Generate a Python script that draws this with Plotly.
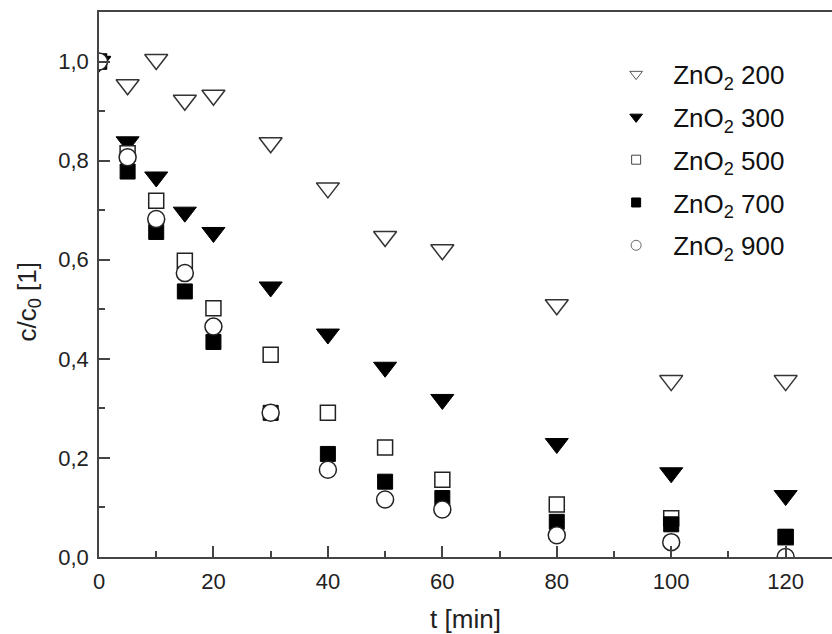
import plotly.graph_objects as go

t = [0, 5, 10, 15, 20, 30, 40, 50, 60, 80, 100, 120]

zno2_200 = [1.0, 0.953, 1.004, 0.922, 0.932, 0.836, 0.745, 0.647, 0.620, 0.509, 0.356, 0.356]
zno2_300 = [1.0, 0.838, 0.767, 0.696, 0.655, 0.545, 0.450, 0.383, 0.318, 0.229, 0.170, 0.124]
zno2_500 = [1.0, 0.815, 0.719, 0.598, 0.502, 0.408, 0.291, 0.221, 0.156, 0.106, 0.078, 0.040]
zno2_700 = [1.0, 0.778, 0.656, 0.536, 0.434, 0.291, 0.208, 0.152, 0.119, 0.071, 0.066, 0.041]
zno2_900 = [1.0, 0.807, 0.682, 0.573, 0.465, 0.291, 0.176, 0.116, 0.096, 0.044, 0.030, 0.0]

names = ["ZnO<sub>2</sub> 200", "ZnO<sub>2</sub> 300", "ZnO<sub>2</sub> 500",
         "ZnO<sub>2</sub> 700", "ZnO<sub>2</sub> 900"]
series = [zno2_200, zno2_300, zno2_500, zno2_700, zno2_900]

styles = [
    dict(symbol="triangle-down", size=20, color="white", line=dict(color="#333333", width=1.5)),
    dict(symbol="triangle-down", size=20, color="black", line=dict(color="black", width=1)),
    dict(symbol="square", size=15, color="white", line=dict(color="#222222", width=1.5)),
    dict(symbol="square", size=15, color="black", line=dict(color="black", width=1)),
    dict(symbol="circle", size=17, color="white", line=dict(color="#222222", width=1.5)),
]
legend_styles = [
    dict(symbol="triangle-down", size=11, color="white", line=dict(color="#555555", width=1)),
    dict(symbol="triangle-down", size=11, color="black", line=dict(color="black", width=1)),
    dict(symbol="square", size=9, color="white", line=dict(color="#444444", width=1)),
    dict(symbol="square", size=9, color="black", line=dict(color="black", width=1)),
    dict(symbol="circle", size=10, color="white", line=dict(color="#666666", width=1)),
]

fig = go.Figure()
for name, ys, st in zip(names, series, styles):
    fig.add_trace(go.Scatter(x=t, y=ys, mode="markers", marker=st, name=name,
                             showlegend=False))
for i, (name, st) in enumerate(zip(names, legend_styles)):
    fig.add_trace(go.Scatter(x=[None], y=[None], mode="markers", marker=st, name=name,
                             legendgroup=f"g{i}", showlegend=True))

axis_common = dict(
    showline=True, linecolor="#444444", linewidth=1.5,
    ticks="inside", ticklen=11, tickwidth=1.5, tickcolor="#444444",
    showgrid=False, zeroline=False,
    tickfont=dict(family="Liberation Sans, Arial, sans-serif", size=22, color="#222222"),
)

fig.update_layout(
    width=832, height=634,
    margin=dict(l=99, r=0, t=12, b=77),
    paper_bgcolor="white", plot_bgcolor="white",
    separators=", ",
    font=dict(family="Liberation Sans, Arial, sans-serif", color="#222222"),
    xaxis=dict(range=[0, 128.1], tickvals=[0, 20, 40, 60, 80, 100, 120],
               minor=dict(tickvals=[10, 30, 50, 70, 90, 110], ticks="inside", ticklen=6,
                          tickwidth=1.5, tickcolor="#444444"),
               mirror=True, ticklabelstandoff=4,
               title=dict(text="t [min]", font=dict(size=26), standoff=21),
               **axis_common),
    yaxis=dict(range=[0, 1.1], tickvals=[0, 0.2, 0.4, 0.6, 0.8, 1.0], tickformat=".1f",
               minor=dict(tickvals=[0.1, 0.3, 0.5, 0.7, 0.9], ticks="inside", ticklen=6,
                          tickwidth=1.5, tickcolor="#444444"),
               mirror=False, ticklabelstandoff=4,
               **axis_common),
    annotations=[dict(text="c/c<sub>0</sub> [1]", textangle=-90, showarrow=False,
                      xref="paper", yref="paper", x=-0.096, y=0.468,
                      xanchor="center", yanchor="middle",
                      font=dict(size=26, color="#222222"))],
    legend=dict(x=0.6823, y=0.929, xanchor="left", yanchor="top",
                bgcolor="rgba(0,0,0,0)", borderwidth=0,
                font=dict(size=26, color="#111111"),
                tracegroupgap=6, itemwidth=64),
)

fig.write_html("out.html")
